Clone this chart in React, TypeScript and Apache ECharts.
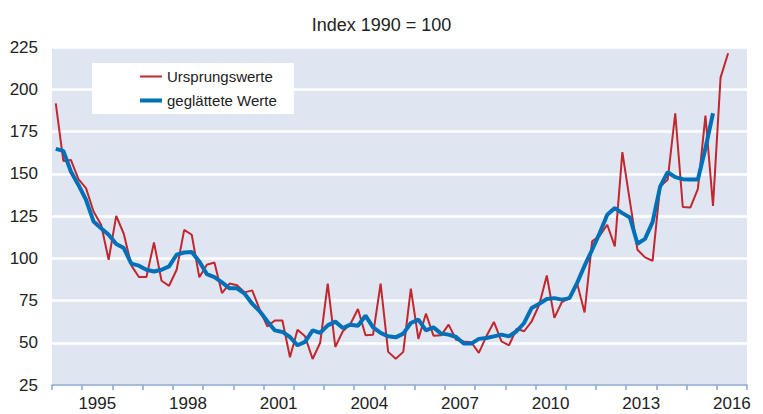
import React, { useEffect, useRef } from "react";
import * as echarts from "echarts";

const START_YEAR = 1994;
const END_YEAR = 2017;
const yearLabels = [1995, 1998, 2001, 2004, 2007, 2010, 2013, 2016];
const seriesNames = ["Ursprungswerte", "geglättete Werte"];

// quarterly values, starting 1994 Q1
const original = [
  191.7, 157.6, 158.2, 146.8,
  141.5, 127.7, 119.8, 99.1,
  125.1, 114.5, 95.8, 88.9,
  88.9, 109.3, 86.7, 83.7,
  93.2, 116.8, 113.9, 88.7,
  96.2, 97.5, 79.4, 85.0,
  84.0, 79.8, 81.0, 69.6,
  59.7, 63.2, 63.2, 41.4,
  57.7, 53.8, 40.4, 50.0,
  85.0, 47.5, 56.8, 61.1,
  70.0, 54.4, 54.8, 85.0,
  44.6, 40.6, 44.6, 82.0,
  52.3, 67.2, 54.2, 54.4,
  60.7, 51.8, 50.8, 50.3,
  44.0, 53.8, 62.3, 50.8,
  48.5, 58.3, 56.8, 62.7,
  72.5, 89.8, 64.7, 74.1,
  76.4, 85.3, 67.9, 110.0,
  113.3, 119.8, 107.0, 162.8,
  133.6, 105.0, 100.5, 98.5,
  142.4, 146.4, 185.8, 130.3,
  130.0, 141.1, 184.4, 131.0,
  206.9, 221.3,
];

const smoothed = [
  164.7, 163.5, 151.3, 143.4,
  134.6, 121.8, 117.8, 113.9,
  108.4, 106.0, 96.8, 95.6,
  93.2, 92.2, 93.2, 95.2,
  102.1, 103.4, 103.7, 98.1,
  90.6, 88.9, 85.7, 82.2,
  82.2, 79.0, 73.1, 68.6,
  62.7, 57.3, 56.4, 53.4,
  48.5, 50.5, 57.3, 55.8,
  60.3, 62.5, 58.7, 60.7,
  60.1, 66.0, 59.1, 55.8,
  53.8, 53.2, 55.4, 61.7,
  63.7, 57.3, 59.1, 55.4,
  54.8, 53.4, 49.5, 49.5,
  52.3, 52.8, 53.8, 54.8,
  53.8, 56.8, 61.7, 70.6,
  73.1, 75.9, 76.4, 75.5,
  76.4, 85.3, 95.6, 105.0,
  114.9, 125.7, 129.7, 126.7,
  124.1, 108.6, 111.5, 121.4,
  142.4, 150.9, 148.0, 146.8,
  146.6, 146.6, 165.1, 185.8,
];

const FONT = "'Liberation Sans', Arial, sans-serif";

const toPoints = (vals: number[]) =>
  vals.map((v, i) => [START_YEAR + (i + 0.5) / 4, v]);

const yearTicks: number[] = [];
for (let y = START_YEAR; y <= END_YEAR; y++) yearTicks.push(y);

export default function App() {
  const ref = useRef<HTMLDivElement>(null);
  useEffect(() => {
    document.body.style.margin = "0";
    if (!ref.current) return;
    const chart = echarts.init(ref.current, null, { renderer: "svg" });
    chart.setOption({
      animation: false,
      backgroundColor: "#ffffff",
      title: {
        text: "Index 1990 = 100",
        left: "center",
        top: 11,
        textStyle: { fontFamily: FONT, fontSize: 18, fontWeight: "normal", color: "#222222" },
      },
      grid: {
        left: 52,
        right: 16,
        top: 47,
        bottom: 29,
        show: true,
        backgroundColor: "#dfe6f2",
        borderWidth: 0,
      },
      legend: {
        orient: "vertical",
        left: 92,
        top: 63,
        backgroundColor: "#ffffff",
        padding: [6, 17, 6, 48],
        itemWidth: 22,
        itemHeight: 14,
        itemGap: 9,
        symbolKeepAspect: true,
        data: [
          { name: seriesNames[0], icon: "path://M0,0 L22,0 L22,2 L0,2 Z" },
          { name: seriesNames[1], icon: "path://M0,0 L22,0 L22,4 L0,4 Z" },
        ],
        textStyle: { fontFamily: FONT, fontSize: 15, color: "#222222" },
      },
      xAxis: {
        type: "value",
        min: START_YEAR,
        max: END_YEAR,
        axisLine: { show: true, lineStyle: { color: "#8aa6d6", width: 1.5 } },
        axisTick: { show: true, customValues: yearTicks, length: 5, lineStyle: { color: "#8aa6d6", width: 1.5 } },
        axisLabel: {
          customValues: yearLabels.map((y) => y + 0.5),
          formatter: (v: number) => String(Math.floor(v)),
          fontFamily: FONT,
          fontSize: 17,
          color: "#222222",
          margin: 10,
        },
        splitLine: { show: false },
      },
      yAxis: {
        type: "value",
        min: 25,
        max: 225,
        interval: 25,
        axisLine: { show: false },
        axisTick: { show: false },
        axisLabel: { fontFamily: FONT, fontSize: 17, color: "#222222", margin: 14 },
        splitLine: { show: true, lineStyle: { color: "#ffffff", width: 2.5 } },
      },
      series: [
        {
          name: seriesNames[0],
          type: "line",
          data: toPoints(original),
          symbol: "none",
          lineStyle: { color: "#c1272d", width: 2 },
          itemStyle: { color: "#c1272d" },
          z: 2,
        },
        {
          name: seriesNames[1],
          type: "line",
          data: toPoints(smoothed),
          symbol: "none",
          lineStyle: { color: "#0070b8", width: 4 },
          itemStyle: { color: "#0070b8" },
          z: 3,
        },
      ],
    });
    return () => chart.dispose();
  }, []);
  return <div ref={ref} style={{ width: 763, height: 414 }} />;
}
